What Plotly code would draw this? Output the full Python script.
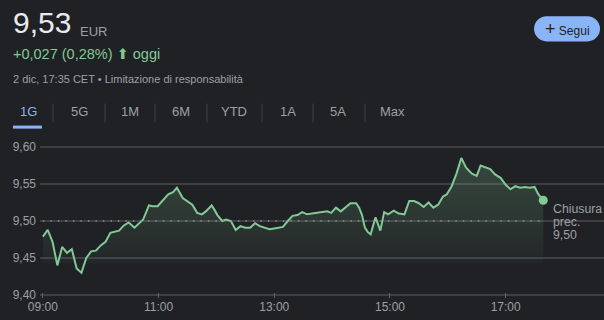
import plotly.graph_objects as go

# ---------------- data ----------------
day = "2023-12-02"
times = ["09:00","09:05","09:10","09:15","09:20","09:25","09:30","09:35","09:40","09:45",
         "09:50","09:55","10:00","10:05","10:10","10:15","10:19","10:24","10:29","10:35",
         "10:39","10:44","10:50","10:54","10:59","11:05","11:10","11:15","11:19","11:25",
         "11:30","11:35","11:40","11:45","11:49","11:55","11:58","12:01","12:06","12:10",
         "12:15","12:20","12:25","12:30","12:35","12:40","12:45","12:51","12:55","13:00",
         "13:03","13:09","13:14","13:19","13:24","13:29","13:34","13:40","13:45","13:50",
         "13:55","13:59","14:04","14:09","14:14","14:19","14:25","14:28","14:31","14:34",
         "14:37","14:40","14:45","14:50","14:54","14:58","15:04","15:09","15:15","15:20",
         "15:25","15:30","15:35","15:40","15:45","15:50","15:55","15:59","16:04","16:09",
         "16:14","16:19","16:25","16:30","16:34","16:39","16:44","16:49","16:55","17:00",
         "17:05","17:10","17:15","17:20","17:25","17:30","17:34","17:39"]
prices = [9.479,9.488,9.472,9.440,9.465,9.457,9.462,9.436,9.430,9.450,
          9.459,9.460,9.467,9.472,9.484,9.486,9.487,9.494,9.498,9.491,
          9.496,9.502,9.521,9.520,9.520,9.529,9.536,9.539,9.545,9.531,
          9.526,9.522,9.511,9.509,9.513,9.521,9.515,9.508,9.500,9.502,
          9.500,9.488,9.493,9.491,9.491,9.497,9.493,9.490,9.489,9.490,
          9.491,9.492,9.500,9.507,9.508,9.512,9.509,9.510,9.511,9.512,
          9.513,9.511,9.518,9.513,9.519,9.524,9.524,9.518,9.508,9.491,
          9.485,9.482,9.505,9.487,9.512,9.509,9.514,9.510,9.509,9.527,
          9.527,9.524,9.519,9.525,9.518,9.522,9.533,9.536,9.547,9.564,
          9.585,9.572,9.564,9.561,9.575,9.572,9.570,9.563,9.558,9.549,
          9.543,9.547,9.545,9.546,9.545,9.546,9.536,9.528]
prev_close = 9.50
fill_base = 9.443
y_ticks = [9.40, 9.45, 9.50, 9.55, 9.60]
y_range = [9.396, 9.604]
x_ticks = ["09:00", "11:00", "13:00", "15:00", "17:00"]
x_range = ["08:57", "18:42"]
tabs = ["1G", "5G", "1M", "6M", "YTD", "1A", "5A", "Max"]
price_text = "9,53"
currency = "EUR"
change_text = "+0,027 (0,28%)"
prev_close_label = ["Chiusura", "prec.", "9,50"]
assert len(times) == len(prices)

# ---------------- styling / layout helpers ----------------
W, H = 604, 320
BG = "#202124"
GREEN = "#81c995"
GRAY = "#9aa0a6"
GRID = "#3c4043"
BLUE = "#8ab4f8"
FONT = "Arial, Liberation Sans, sans-serif"

ppu = (295 - 147.3) / 0.20
T = 147.3 - (y_range[1] - 9.60) * ppu
B = H - (295 + (9.40 - y_range[0]) * ppu)
L, R = 40, 0
PW, PH = W - L - R, H - T - B


def px(x):
    return (x - L) / PW


def py(y):
    return (H - B - y) / PH


xs = [f"{day} {t}" for t in times]

fig = go.Figure()

fig.add_trace(go.Scatter(x=[xs[0], xs[-1]], y=[fill_base, fill_base], mode="lines",
                         line=dict(width=0, color="rgba(0,0,0,0)"), hoverinfo="skip",
                         showlegend=False))
fig.add_trace(go.Scatter(
    x=xs, y=prices, mode="lines", line=dict(color=GREEN, width=2),
    fill="tonexty",
    fillgradient=dict(type="vertical", start=fill_base, stop=max(prices),
                      colorscale=[[0, "rgba(129,201,149,0.03)"], [1, "rgba(129,201,149,0.24)"]]),
    showlegend=False))
fig.add_trace(go.Scatter(x=[xs[0], xs[-1]], y=[prev_close, prev_close], mode="lines",
                         line=dict(color="#8a8e93", width=1.3, dash="1.5px,6px"),
                         showlegend=False, hoverinfo="skip"))
fig.add_trace(go.Scatter(x=[xs[-1]], y=[prices[-1]], mode="markers",
                         marker=dict(color=GREEN, size=9), showlegend=False))

fig.update_layout(
    width=W, height=H,
    margin=dict(l=L, r=R, t=T, b=B),
    paper_bgcolor=BG, plot_bgcolor=BG,
    separators=",.",
    font=dict(family=FONT, color=GRAY, size=12),
    xaxis=dict(type="date", range=[f"{day} {x_range[0]}", f"{day} {x_range[1]}"],
               tickvals=[f"{day} {t}" for t in x_ticks], ticktext=x_ticks,
               showgrid=False, zeroline=False, showline=False,
               ticks="inside", ticklen=5, tickcolor="#5f6368", tickwidth=1,
               tickfont=dict(size=12, color=GRAY, family=FONT), fixedrange=True),
    yaxis=dict(range=y_range, tickvals=y_ticks, tickformat=".2f",
               showgrid=True, gridcolor=GRID, gridwidth=1.6, zeroline=False,
               showline=False, ticks="", ticklabelstandoff=3,
               tickfont=dict(size=12, color=GRAY, family=FONT)),
)

ann = []
ann.append(dict(text=price_text, x=px(11), y=py(23), xanchor="left", yanchor="middle",
                font=dict(size=30, color="#e8eaed", family=FONT)))
ann.append(dict(text=currency, x=px(78), y=py(32), xanchor="left", yanchor="middle",
                font=dict(size=13, color=GRAY, family=FONT)))
ann.append(dict(text=change_text + " <span style='font-family:DejaVu Sans'>\u2B06</span> oggi",
                x=px(11), y=py(55), xanchor="left",
                yanchor="middle", font=dict(size=14.5, color=GREEN, family=FONT)))
ann.append(dict(text="2 dic, 17:35 CET \u2022 Limitazione di responsabilità", x=px(11), y=py(80),
                xanchor="left", yanchor="middle", font=dict(size=11, color=GRAY, family=FONT)))
ann.append(dict(text="<span style='font-size:18px'>+</span> Segui", x=px(567), y=py(30),
                xanchor="center", yanchor="middle",
                font=dict(size=12, color="#202124", family=FONT)))
tab_x = [28, 79, 130, 181, 234, 288, 338, 392]
for name, tx in zip(tabs, tab_x):
    ann.append(dict(text=name, x=px(tx), y=py(112), xanchor="center", yanchor="middle",
                    font=dict(size=13, color=BLUE if name == "1G" else GRAY, family=FONT)))
for i, line in enumerate(prev_close_label):
    ann.append(dict(text=line, x=px(551), y=py(209 + 13 * i), xanchor="left",
                    yanchor="middle", font=dict(size=12.3, color=GRAY, family=FONT)))
for a in ann:
    a.update(xref="paper", yref="paper", showarrow=False)
fig.update_layout(annotations=ann)

shapes = []
x0, x1, y0, y1 = 534, 600, 17, 42
r = (y1 - y0) / 2
k = 0.5523 * r


def P(x, y):
    return f"{px(x):.5f},{py(y):.5f}"


path = (f"M {P(x0 + r, y0)} L {P(x1 - r, y0)} "
        f"C {P(x1 - r + k, y0)} {P(x1, y0 + r - k)} {P(x1, y0 + r)} "
        f"C {P(x1, y0 + r + k)} {P(x1 - r + k, y1)} {P(x1 - r, y1)} "
        f"L {P(x0 + r, y1)} "
        f"C {P(x0 + r - k, y1)} {P(x0, y0 + r + k)} {P(x0, y0 + r)} "
        f"C {P(x0, y0 + r - k)} {P(x0 + r - k, y0)} {P(x0 + r, y0)} Z")
shapes.append(dict(type="path", path=path, xref="paper", yref="paper",
                   fillcolor=BLUE, line=dict(width=0)))
for sx in [53, 105, 155, 207, 262, 313, 365]:
    shapes.append(dict(type="line", xref="paper", yref="paper", x0=px(sx), x1=px(sx),
                       y0=py(104), y1=py(123), line=dict(color=GRID, width=1)))
shapes.append(dict(type="rect", xref="paper", yref="paper", x0=px(13), x1=px(42),
                   y0=py(129), y1=py(126), fillcolor=BLUE, line=dict(width=0)))
fig.update_layout(shapes=shapes)

fig.write_html("out.html")
